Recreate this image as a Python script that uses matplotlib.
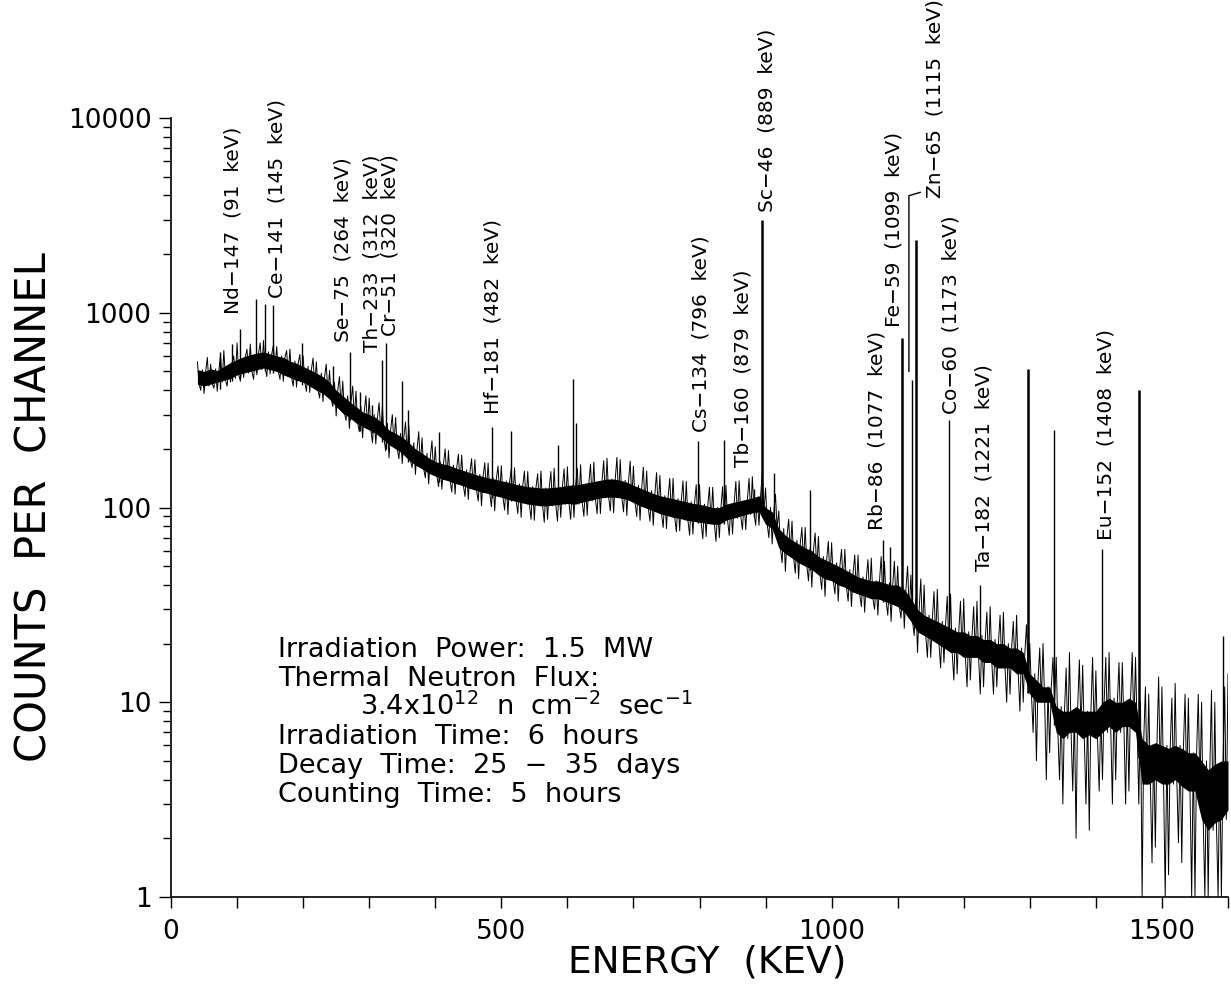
import numpy as np
import matplotlib.pyplot as plt
from matplotlib.ticker import MultipleLocator, LogLocator, NullFormatter, FuncFormatter

plt.rcParams['font.family'] = 'DejaVu Sans'
plt.rcParams['mathtext.default'] = 'regular'

# energy grid of the read-off trace, keV
kev = np.arange(40, 1601, 10)

# dense core of the noisy trace (counts per channel)
core_hi = [510, 500, 515, 505, 530, 555, 575, 595, 610, 620,
           630, 615, 600, 590, 565, 550, 530, 510, 490, 470,
           440, 400, 375, 350, 330, 310, 300, 290, 270, 250,
           240, 230, 215, 200, 190, 180, 172, 168, 165, 160,
           156, 152, 148, 145, 142, 140, 137, 135, 132, 130,
           128, 127, 126, 126, 127, 128, 130, 130, 132, 134,
           136, 138, 140, 140, 138, 135, 130, 126, 122, 118,
           115, 113, 111, 109, 107, 105, 104, 102, 100, 100,
           104, 106, 108, 110, 112, 115, 100, 95, 78, 72,
           68, 65, 62, 60, 56, 54, 52, 50, 48, 46,
           44, 43, 42, 42, 41, 40, 40, 38, 34, 30,
           28, 27, 26, 25, 24, 23, 23, 22, 22, 21,
           21, 20, 20, 19, 19, 18, 14, 13, 12, 12,
           9.5, 9, 9, 9.5, 9, 9, 9, 10, 10.5, 10,
           10, 10.5, 10, 6.5, 6, 6.2, 6, 5.8, 6, 5.8,
           5.5, 5.5, 5, 4.5, 4.8, 5, 5]
core_lo = [430, 420, 430, 440, 450, 460, 480, 490, 500, 510,
           520, 510, 500, 480, 465, 450, 440, 420, 400, 385,
           360, 330, 305, 290, 272, 260, 250, 240, 225, 210,
           200, 190, 175, 165, 158, 150, 145, 140, 137, 133,
           130, 126, 123, 120, 118, 115, 113, 110, 108, 106,
           104, 103, 102, 102, 103, 104, 105, 104, 106, 108,
           110, 112, 113, 113, 112, 110, 106, 102, 99, 96,
           93, 91, 89, 88, 86, 85, 84, 83, 82, 82,
           86, 88, 90, 92, 94, 95, 82, 78, 62, 58,
           55, 52, 50, 48, 45, 43, 42, 40, 39, 37,
           36, 35, 34, 34, 33, 32, 31, 29, 26, 23,
           22, 21, 20, 19, 18, 18, 17, 17, 17, 16,
           16, 15, 15, 15, 14, 14, 11, 10, 10, 10,
           7, 6.5, 7, 7, 6.5, 6.8, 6.5, 7, 7.5, 7,
           7.5, 7.5, 7, 3.8, 3.8, 4, 3.8, 3.8, 4, 3.7,
           3.5, 3.5, 2.5, 2.2, 2.4, 2.5, 2.8]
# extremes of the noise spikes
trace_max = [560, 590, 545, 610, 640, 600, 700, 650, 690, 700,
             720, 680, 670, 640, 650, 610, 600, 585, 560, 545,
             505, 470, 445, 420, 395, 375, 365, 345, 330, 300,
             290, 275, 262, 245, 228, 220, 205, 200, 196, 188,
             186, 178, 176, 170, 169, 163, 164, 158, 160, 154,
             153, 149, 154, 153, 159, 158, 162, 159, 166, 167,
             171, 174, 179, 181, 176, 173, 163, 161, 154, 151,
             146, 141, 141, 137, 136, 131, 131, 127, 127, 128,
             130, 136, 137, 141, 144, 150, 126, 117, 96, 87,
             85, 79, 79, 74, 71, 67, 66, 61, 61, 57,
             57, 54, 55, 56, 53, 53, 50, 50, 45, 43,
             40, 37, 38, 35, 36, 33, 34, 31, 33, 29,
             31, 28, 29, 26, 28, 25, 20, 19, 20, 17,
             17, 15, 18, 16.5, 15.5, 17, 14.5, 17, 18, 16,
             16, 18, 17, 12, 11, 13.5, 12, 10.5, 12.5, 11,
             10.5, 11, 10, 11.5, 10, 12, 14]
trace_min = [400, 385, 410, 395, 420, 440, 445, 465, 455, 480,
             470, 485, 455, 445, 420, 415, 395, 390, 365, 350,
             330, 295, 280, 255, 245, 228, 215, 212, 195, 180,
             178, 168, 160, 148, 142, 132, 128, 124, 120, 117,
             114, 110, 108, 102, 101, 96, 97, 92, 93, 89,
             87, 86, 84, 87, 85, 89, 87, 89, 90, 91,
             93, 93, 96, 94, 95, 91, 90, 86, 85, 81,
             79, 78, 75, 76, 72, 73, 69, 71, 67, 70,
             72, 73, 77, 77, 81, 81, 70, 65, 52, 47,
             46, 43, 42, 39, 38, 35, 36, 33, 33, 31,
             31, 29, 30, 28, 28, 26, 27, 24, 22, 18,
             17, 17, 15, 16, 13, 14, 12, 13, 11, 12,
             11, 12, 10, 11, 9, 10, 7, 5, 4, 5.5,
             4, 3, 3.5, 2, 3, 2.2, 3.5, 4, 3, 4,
             3, 3.5, 3, 1, 1.5, 1.8, 1, 1.3, 1.9, 1.5,
             1, 1, 1, 1, 1, 1, 1]

# photopeaks: energy (keV) and top of peak (counts)
peak_kev = [74, 93, 105, 129, 143, 154, 199, 245, 271, 286,
            304, 319, 326, 350, 358, 406, 486, 515, 586, 608,
            613, 798, 837, 883, 894, 913, 967, 1078, 1088, 1106,
            1121, 1128, 1178, 1225, 1297, 1337, 1410, 1466, 1592]
peak_cts = [630, 690, 830, 1170, 1110, 1100, 700, 533, 630, 390,
            335, 575, 700, 445, 315, 245, 260, 247, 210, 455,
            270, 220, 222, 125, 3000, 150, 123, 68, 63, 740,
            450, 2350, 282, 40, 512, 250, 61, 400, 22]
strong_peaks = [894, 1106, 1128, 1297, 1466]

peak_names = ['Nd−147  (91  keV)', 'Ce−141  (145  keV)', 'Se−75  (264  keV)',
              'Th−233  (312  keV)', 'Cr−51  (320  keV)', 'Hf−181  (482  keV)',
              'Cs−134  (796  keV)', 'Tb−160  (879  keV)', 'Sc−46  (889  keV)',
              'Rb−86  (1077  keV)', 'Fe−59  (1099  keV)', 'Zn−65  (1115  keV)',
              'Co−60  (1173  keV)', 'Ta−182  (1221  keV)', 'Eu−152  (1408  keV)']
name_kev = [94, 160, 261, 304, 331, 487, 802, 866, 902,
            1068, 1095, 1157, 1181, 1230, 1416]
name_cts = [986, 1190, 708, 629, 760, 302, 244, 161, 3290,
            77, 845, 3880, 302, 47, 68]

zn_leader_kev = [1117, 1117, 1134]
zn_leader_cts = [500, 3990, 4150]

info_lines = ['Irradiation  Power:  1.5  MW',
              'Thermal  Neutron  Flux:',
              '3.4x10$^{12}$  n  cm$^{-2}$  sec$^{-1}$',
              'Irradiation  Time:  6  hours',
              'Decay  Time:  25  −  35  days',
              'Counting  Time:  5  hours']

W, H = 1231, 984
fig = plt.figure(figsize=(W / 100, H / 100), dpi=100)
ax = fig.add_axes([171 / W, 1 - 897 / H, 1057 / W, (897 - 118) / H])

# noisy continuum: solid core plus spikes, spike order alternates per bin
ax.fill_between(kev, core_lo, core_hi, color='black', lw=0)
xs, ys = [], []
for i, k in enumerate(kev):
    xs += [k, k + 2.5, k + 5, k + 7.5]
    if i % 2 == 0:
        ys += [trace_max[i], core_lo[i], trace_min[i], core_hi[i]]
    else:
        ys += [trace_min[i], core_hi[i], trace_max[i], core_lo[i]]
ax.plot(xs, ys, color='black', lw=0.7)

core_hi_arr = np.array(core_hi)
for p, c in zip(peak_kev, peak_cts):
    base = core_hi_arr[np.abs(kev - p).argmin()]
    lw = 1.8 if p in strong_peaks else 1.0
    ax.vlines(p, base * 0.8, c, color='black', lw=lw)

for s, k, c in zip(peak_names, name_kev, name_cts):
    ax.text(k, c, s, rotation=90, ha='center', va='bottom', fontsize=14.5,
            clip_on=False)

ax.plot(zn_leader_kev, zn_leader_cts, color='black', lw=1.0)

ax.set_yscale('log')
ax.set_xlim(0, 1600)
ax.set_ylim(1, 10000)
ax.spines['top'].set_visible(False)
ax.spines['right'].set_visible(False)
ax.spines['left'].set_linewidth(1.2)
ax.spines['bottom'].set_linewidth(1.2)

ax.xaxis.set_major_locator(MultipleLocator(500))
ax.xaxis.set_minor_locator(MultipleLocator(100))
ax.yaxis.set_major_locator(LogLocator(base=10, numticks=10))
ax.yaxis.set_minor_locator(LogLocator(base=10, subs=np.arange(2, 10), numticks=20))
ax.yaxis.set_major_formatter(FuncFormatter(lambda v, pos: '%d' % round(v)))
ax.yaxis.set_minor_formatter(NullFormatter())

ax.tick_params(axis='x', which='both', direction='out', length=8, width=1,
               labelsize=19, pad=8)
ax.tick_params(axis='y', which='major', direction='out', length=9, width=1,
               labelsize=19, pad=5)
ax.tick_params(axis='y', which='minor', direction='out', length=5.5, width=1)

fig.text(707 / W, 1 - 963 / H, 'ENERGY  (KEV)', ha='center', va='center',
         fontsize=27)
fig.text(35 / W, 1 - 507 / H, 'COUNTS  PER  CHANNEL', ha='center', va='center',
         rotation=90, fontsize=30)

baselines = [657, 686, 715, 744, 773, 802]
for i, (line, y) in enumerate(zip(info_lines, baselines)):
    x = 360 if i == 2 else 278
    fig.text(x / W, 1 - y / H, line, ha='left', va='baseline', fontsize=19.5)

fig.savefig('out.png', dpi=100)
